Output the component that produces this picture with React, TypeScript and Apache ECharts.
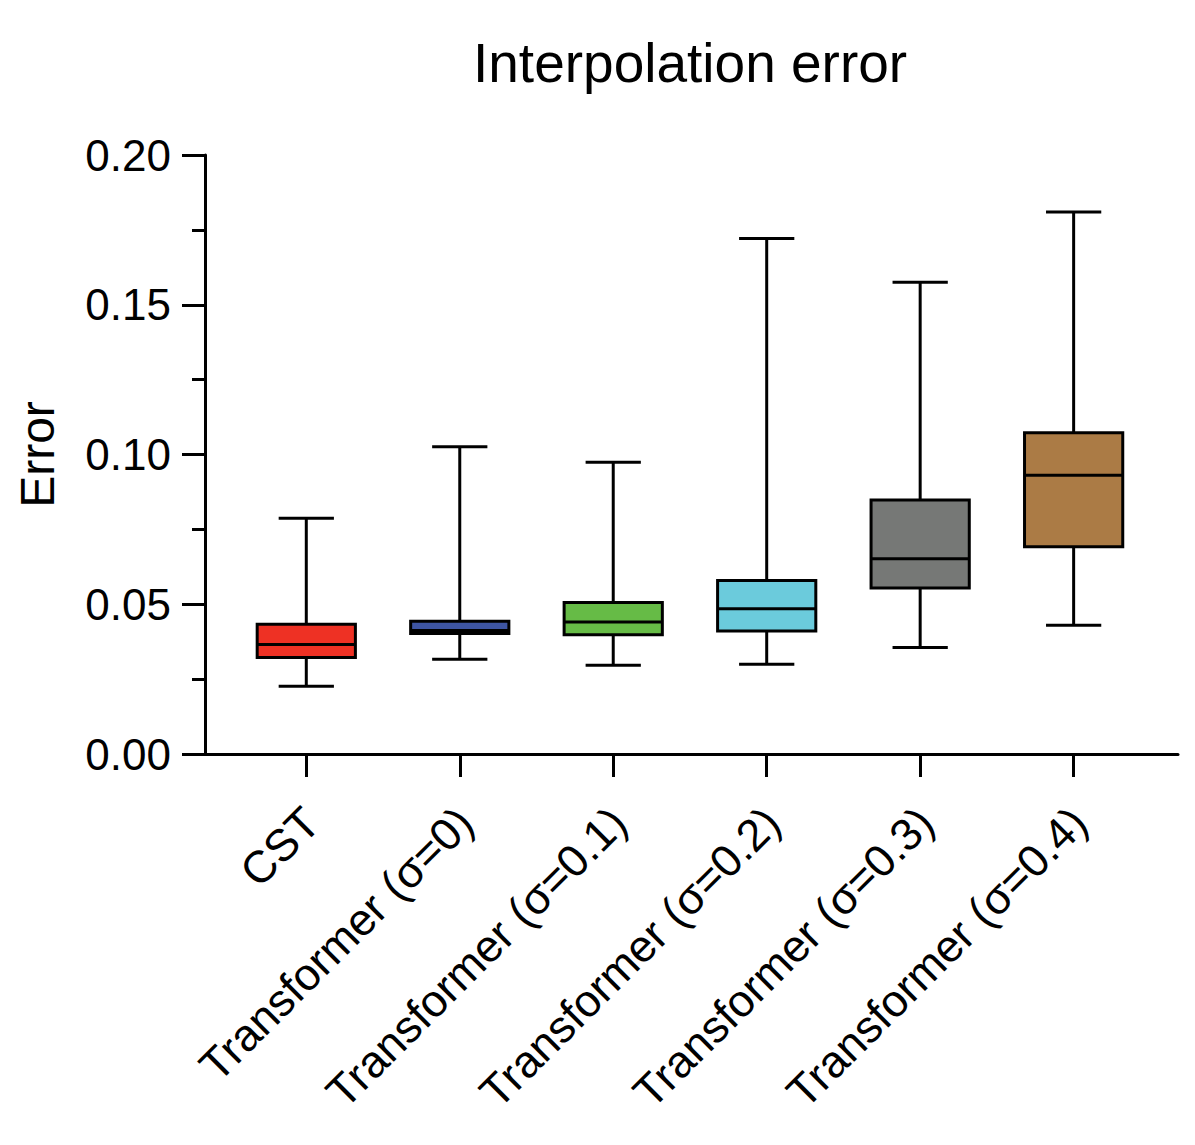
import React, { useEffect, useRef } from "react";
import * as echarts from "echarts";

const categories = [
  "CST",
  "Transformer (σ=0)",
  "Transformer (σ=0.1)",
  "Transformer (σ=0.2)",
  "Transformer (σ=0.3)",
  "Transformer (σ=0.4)",
];
// [min, Q1, median, Q3, max]
const cstBox = [0.0226, 0.0322, 0.0366, 0.0433, 0.0787];
const sigma0Box = [0.0316, 0.0402, 0.0412, 0.0443, 0.1026];
const sigma01Box = [0.0296, 0.0398, 0.0441, 0.0506, 0.0974];
const sigma02Box = [0.03, 0.0411, 0.0485, 0.0579, 0.1721];
const sigma03Box = [0.0356, 0.0554, 0.0652, 0.0848, 0.1575];
const sigma04Box = [0.043, 0.0692, 0.0931, 0.1073, 0.181];
const boxColors = ["#EE3124", "#3E55A3", "#66BB46", "#6BCBDC", "#767876", "#AB7B45"];
const yTicks = [0, 0.05, 0.1, 0.15, 0.2];

const FONT = "'Liberation Sans', Arial, Helvetica, sans-serif";
const X_MIN = -0.66;
const X_MAX = 5.68;
const LABEL_SHIFT = 0.035; // labels sit slightly right of their ticks

export default function App() {
  const ref = useRef<HTMLDivElement>(null);
  useEffect(() => {
    document.body.style.margin = "0";
    if (!ref.current) return;
    const chart = echarts.init(ref.current, null, { renderer: "svg" });
    const boxes = [cstBox, sigma0Box, sigma01Box, sigma02Box, sigma03Box, sigma04Box];
    const data = boxes.map((b, i) => [i, ...b]);
    const idx = categories.map((_, i) => i);

    chart.setOption({
      animation: false,
      backgroundColor: "#ffffff",
      title: {
        text: "Interpolation error",
        left: 473,
        top: 35,
        padding: 0,
        textStyle: { fontFamily: FONT, fontSize: 55, fontWeight: "normal", color: "#000" },
      },
      grid: { left: 205, right: 17, top: 155, bottom: 391, containLabel: false },
      xAxis: [
        {
          type: "value",
          position: "bottom",
          min: X_MIN,
          max: X_MAX,
          splitLine: { show: false },
          axisLine: { show: true, onZero: false, lineStyle: { color: "#000", width: 3 } },
          axisTick: { show: true, customValues: idx, length: 23, lineStyle: { color: "#000", width: 3 } },
          axisLabel: { show: false },
        },
        {
          type: "value",
          position: "bottom",
          min: X_MIN - LABEL_SHIFT,
          max: X_MAX - LABEL_SHIFT,
          splitLine: { show: false },
          axisLine: { show: false, onZero: false },
          axisTick: { show: false },
          axisLabel: {
            customValues: idx,
            formatter: (v: number) => categories[Math.round(v)] ?? "",
            rotate: 45,
            margin: 61,
            fontFamily: FONT,
            fontSize: 45,
            color: "#000",
          },
        },
      ],
      yAxis: {
        type: "value",
        min: 0,
        max: 0.2,
        interval: 0.05,
        name: "Error",
        nameLocation: "middle",
        nameRotate: 90,
        nameGap: 144,
        nameTextStyle: { fontFamily: FONT, fontSize: 48, color: "#000" },
        splitLine: { show: false },
        axisLine: { show: true, onZero: false, lineStyle: { color: "#000", width: 3 } },
        axisTick: { show: true, length: 23, lineStyle: { color: "#000", width: 3 } },
        minorTick: { show: true, splitNumber: 2, length: 13, lineStyle: { color: "#000", width: 3 } },
        minorSplitLine: { show: false },
        axisLabel: {
          customValues: yTicks,
          formatter: (v: number) => v.toFixed(2),
          margin: 34,
          fontFamily: FONT,
          fontSize: 44,
          color: "#000",
        },
      },
      series: [
        {
          type: "custom",
          xAxisIndex: 0,
          data,
          encode: { x: 0, y: [1, 2, 3, 4, 5] },
          renderItem: (params: any, api: any) => {
            const x = api.value(0);
            const pMin = api.coord([x, api.value(1)]);
            const pQ1 = api.coord([x, api.value(2)]);
            const pMed = api.coord([x, api.value(3)]);
            const pQ3 = api.coord([x, api.value(4)]);
            const pMax = api.coord([x, api.value(5)]);
            const band = api.size([1, 0])[0];
            const boxW = band * 0.64;
            const capW = band * 0.36;
            const cx = pMed[0];
            const stroke = { stroke: "#000", lineWidth: 3 };
            return {
              type: "group",
              children: [
                { type: "line", shape: { x1: cx, y1: pMin[1], x2: cx, y2: pQ1[1] }, style: stroke },
                { type: "line", shape: { x1: cx, y1: pQ3[1], x2: cx, y2: pMax[1] }, style: stroke },
                { type: "line", shape: { x1: cx - capW / 2, y1: pMin[1], x2: cx + capW / 2, y2: pMin[1] }, style: stroke },
                { type: "line", shape: { x1: cx - capW / 2, y1: pMax[1], x2: cx + capW / 2, y2: pMax[1] }, style: stroke },
                {
                  type: "rect",
                  shape: { x: cx - boxW / 2, y: pQ3[1], width: boxW, height: pQ1[1] - pQ3[1] },
                  style: { fill: boxColors[params.dataIndex], stroke: "#000", lineWidth: 3 },
                },
                { type: "line", shape: { x1: cx - boxW / 2, y1: pMed[1], x2: cx + boxW / 2, y2: pMed[1] }, style: stroke },
              ],
            };
          },
        },
      ],
    });
    return () => chart.dispose();
  }, []);
  return <div ref={ref} style={{ width: 1195, height: 1145 }} />;
}
